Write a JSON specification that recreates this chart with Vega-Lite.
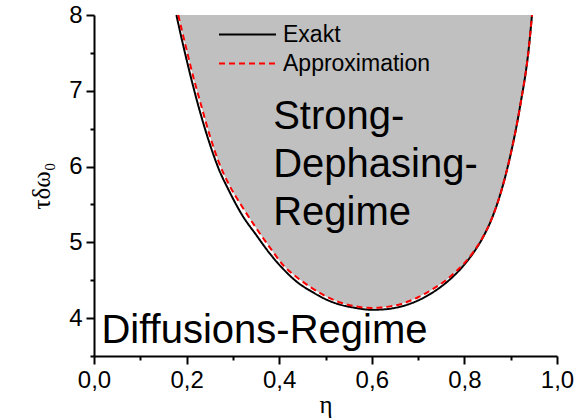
{
  "$schema": "https://vega.github.io/schema/vega-lite/v6.json",
  "width": 463,
  "height": 341,
  "autosize": {"type": "none"},
  "padding": {"left": 94, "top": 15, "right": 21, "bottom": 64},
  "background": "white",
  "config": {
    "locale": {"number": {"decimal": ",", "thousands": ".", "grouping": [3], "currency": ["", " €"]}},
    "view": {"stroke": null},
    "font": "Liberation Sans",
    "axis": {
      "grid": false,
      "domainColor": "black",
      "domainWidth": 2,
      "tickColor": "black",
      "tickWidth": 2,
      "labelColor": "black",
      "labelFont": "Liberation Sans",
      "labelFontSize": 24,
      "titleFont": "Liberation Serif",
      "titleFontWeight": "normal",
      "titleColor": "black",
      "titleFontSize": 25
    }
  },
  "datasets": {
    "curves": [
      {"series": "Exakt", "eta": 0.178, "tau": 8.0},
      {"series": "Exakt", "eta": 0.19, "tau": 7.67},
      {"series": "Exakt", "eta": 0.2, "tau": 7.41},
      {"series": "Exakt", "eta": 0.215, "tau": 7.04},
      {"series": "Exakt", "eta": 0.23, "tau": 6.7},
      {"series": "Exakt", "eta": 0.25, "tau": 6.3},
      {"series": "Exakt", "eta": 0.27, "tau": 5.96},
      {"series": "Exakt", "eta": 0.29, "tau": 5.7},
      {"series": "Exakt", "eta": 0.32, "tau": 5.36},
      {"series": "Exakt", "eta": 0.35, "tau": 5.1},
      {"series": "Exakt", "eta": 0.38, "tau": 4.85},
      {"series": "Exakt", "eta": 0.41, "tau": 4.64},
      {"series": "Exakt", "eta": 0.44, "tau": 4.47},
      {"series": "Exakt", "eta": 0.47, "tau": 4.35},
      {"series": "Exakt", "eta": 0.5, "tau": 4.25},
      {"series": "Exakt", "eta": 0.53, "tau": 4.18},
      {"series": "Exakt", "eta": 0.56, "tau": 4.14},
      {"series": "Exakt", "eta": 0.6, "tau": 4.11},
      {"series": "Exakt", "eta": 0.62, "tau": 4.113},
      {"series": "Exakt", "eta": 0.64, "tau": 4.125},
      {"series": "Exakt", "eta": 0.66, "tau": 4.148},
      {"series": "Exakt", "eta": 0.68, "tau": 4.184},
      {"series": "Exakt", "eta": 0.7, "tau": 4.233},
      {"series": "Exakt", "eta": 0.72, "tau": 4.296},
      {"series": "Exakt", "eta": 0.74, "tau": 4.373},
      {"series": "Exakt", "eta": 0.76, "tau": 4.465},
      {"series": "Exakt", "eta": 0.78, "tau": 4.575},
      {"series": "Exakt", "eta": 0.8, "tau": 4.707},
      {"series": "Exakt", "eta": 0.82, "tau": 4.867},
      {"series": "Exakt", "eta": 0.84, "tau": 5.065},
      {"series": "Exakt", "eta": 0.86, "tau": 5.325},
      {"series": "Exakt", "eta": 0.88, "tau": 5.685},
      {"series": "Exakt", "eta": 0.9, "tau": 6.165},
      {"series": "Exakt", "eta": 0.92, "tau": 6.785},
      {"series": "Exakt", "eta": 0.94, "tau": 7.615},
      {"series": "Exakt", "eta": 0.946, "tau": 8.0},
      {"series": "Approximation", "eta": 0.182, "tau": 8.0},
      {"series": "Approximation", "eta": 0.19, "tau": 7.79},
      {"series": "Approximation", "eta": 0.2, "tau": 7.54},
      {"series": "Approximation", "eta": 0.215, "tau": 7.17},
      {"series": "Approximation", "eta": 0.23, "tau": 6.84},
      {"series": "Approximation", "eta": 0.25, "tau": 6.41},
      {"series": "Approximation", "eta": 0.27, "tau": 6.05},
      {"series": "Approximation", "eta": 0.29, "tau": 5.78},
      {"series": "Approximation", "eta": 0.32, "tau": 5.47},
      {"series": "Approximation", "eta": 0.35, "tau": 5.19},
      {"series": "Approximation", "eta": 0.38, "tau": 4.93},
      {"series": "Approximation", "eta": 0.41, "tau": 4.69},
      {"series": "Approximation", "eta": 0.44, "tau": 4.53},
      {"series": "Approximation", "eta": 0.47, "tau": 4.4},
      {"series": "Approximation", "eta": 0.5, "tau": 4.29},
      {"series": "Approximation", "eta": 0.53, "tau": 4.21},
      {"series": "Approximation", "eta": 0.56, "tau": 4.16},
      {"series": "Approximation", "eta": 0.6, "tau": 4.135},
      {"series": "Approximation", "eta": 0.62, "tau": 4.14},
      {"series": "Approximation", "eta": 0.64, "tau": 4.155},
      {"series": "Approximation", "eta": 0.66, "tau": 4.18},
      {"series": "Approximation", "eta": 0.68, "tau": 4.222},
      {"series": "Approximation", "eta": 0.7, "tau": 4.275},
      {"series": "Approximation", "eta": 0.72, "tau": 4.34},
      {"series": "Approximation", "eta": 0.74, "tau": 4.415},
      {"series": "Approximation", "eta": 0.76, "tau": 4.5},
      {"series": "Approximation", "eta": 0.78, "tau": 4.605},
      {"series": "Approximation", "eta": 0.8, "tau": 4.725},
      {"series": "Approximation", "eta": 0.82, "tau": 4.878},
      {"series": "Approximation", "eta": 0.84, "tau": 5.07},
      {"series": "Approximation", "eta": 0.86, "tau": 5.325},
      {"series": "Approximation", "eta": 0.88, "tau": 5.685},
      {"series": "Approximation", "eta": 0.9, "tau": 6.165},
      {"series": "Approximation", "eta": 0.92, "tau": 6.785},
      {"series": "Approximation", "eta": 0.94, "tau": 7.615},
      {"series": "Approximation", "eta": 0.946, "tau": 8.0}
    ],
    "labels": [
      {"text": "Strong-", "eta": 0.387, "tau": 6.5},
      {"text": "Dephasing-", "eta": 0.387, "tau": 5.865},
      {"text": "Regime", "eta": 0.387, "tau": 5.23},
      {"text": "Diffusions-Regime", "eta": 0.016, "tau": 3.674}
    ]
  },
  "layer": [
    {
      "data": {"name": "curves"},
      "transform": [{"filter": "datum.series === 'Approximation'"}],
      "mark": {"type": "area", "color": "#c0c0c0", "interpolate": "monotone"},
      "encoding": {
        "x": {
          "field": "eta", "type": "quantitative",
          "scale": {"domain": [0, 1], "nice": false},
          "axis": {"orient": "bottom", "values": [0, 0.2, 0.4, 0.6, 0.8, 1.0], "format": ".1f", "tickSize": 8, "labelPadding": 4, "title": "η", "titlePadding": 0, "labelFlush": false}
        },
        "y": {
          "field": "tau", "type": "quantitative",
          "scale": {"domain": [3.5, 8], "nice": false, "zero": false},
          "axis": {"orient": "left", "values": [4, 5, 6, 7, 8], "format": "d", "tickSize": 8, "labelPadding": 4, "title": "τδω₀", "titlePadding": 14, "labelFlush": false}
        },
        "y2": {"datum": 8}
      }
    },
    {
      "data": {"name": "curves"},
      "transform": [{"filter": "datum.series === 'Exakt'"}],
      "mark": {"type": "line", "strokeWidth": 2, "interpolate": "monotone"},
      "encoding": {
        "x": {"field": "eta", "type": "quantitative",
          "axis": {"orient": "bottom", "values": [0.1, 0.3, 0.5, 0.7, 0.9], "tickSize": 4, "labels": false, "domain": false, "title": null}},
        "y": {"field": "tau", "type": "quantitative",
          "axis": {"orient": "left", "values": [3.5, 4.5, 5.5, 6.5, 7.5], "tickSize": 4, "labels": false, "domain": false, "title": null}},
        "color": {"field": "series", "type": "nominal",
          "scale": {"domain": ["Exakt", "Approximation"], "range": ["black", "#ff0000"]},
          "legend": {"orient": "none", "legendX": 138, "legendY": 4, "title": null, "symbolType": "M-2,0H2", "symbolSize": 812, "symbolStrokeWidth": 2, "labelFontSize": 23, "labelFont": "Liberation Sans", "labelColor": "black", "labelOffset": 20, "rowPadding": 1}},
        "strokeDash": {"field": "series", "type": "nominal",
          "scale": {"domain": ["Exakt", "Approximation"], "range": [[1, 0], [6, 4]]},
          "legend": {"orient": "none", "legendX": 138, "legendY": 4, "title": null, "symbolType": "M-2,0H2", "symbolSize": 812, "symbolStrokeWidth": 2, "labelFontSize": 23, "labelFont": "Liberation Sans", "labelColor": "black", "labelOffset": 20, "rowPadding": 1}}
      }
    },
    {
      "data": {"name": "curves"},
      "transform": [{"filter": "datum.series === 'Approximation'"}],
      "mark": {"type": "line", "strokeWidth": 2, "interpolate": "monotone"},
      "encoding": {
        "x": {"field": "eta", "type": "quantitative", "axis": null},
        "y": {"field": "tau", "type": "quantitative", "axis": null},
        "color": {"field": "series", "type": "nominal"},
        "strokeDash": {"field": "series", "type": "nominal"}
      }
    },
    {
      "data": {"name": "labels"},
      "mark": {"type": "text", "align": "left", "baseline": "alphabetic", "fontSize": 40, "font": "Liberation Sans", "color": "black"},
      "encoding": {
        "x": {"field": "eta", "type": "quantitative", "axis": null},
        "y": {"field": "tau", "type": "quantitative", "axis": null},
        "text": {"field": "text"}
      }
    }
  ],
  "resolve": {"axis": {"x": "independent", "y": "independent"}}
}
